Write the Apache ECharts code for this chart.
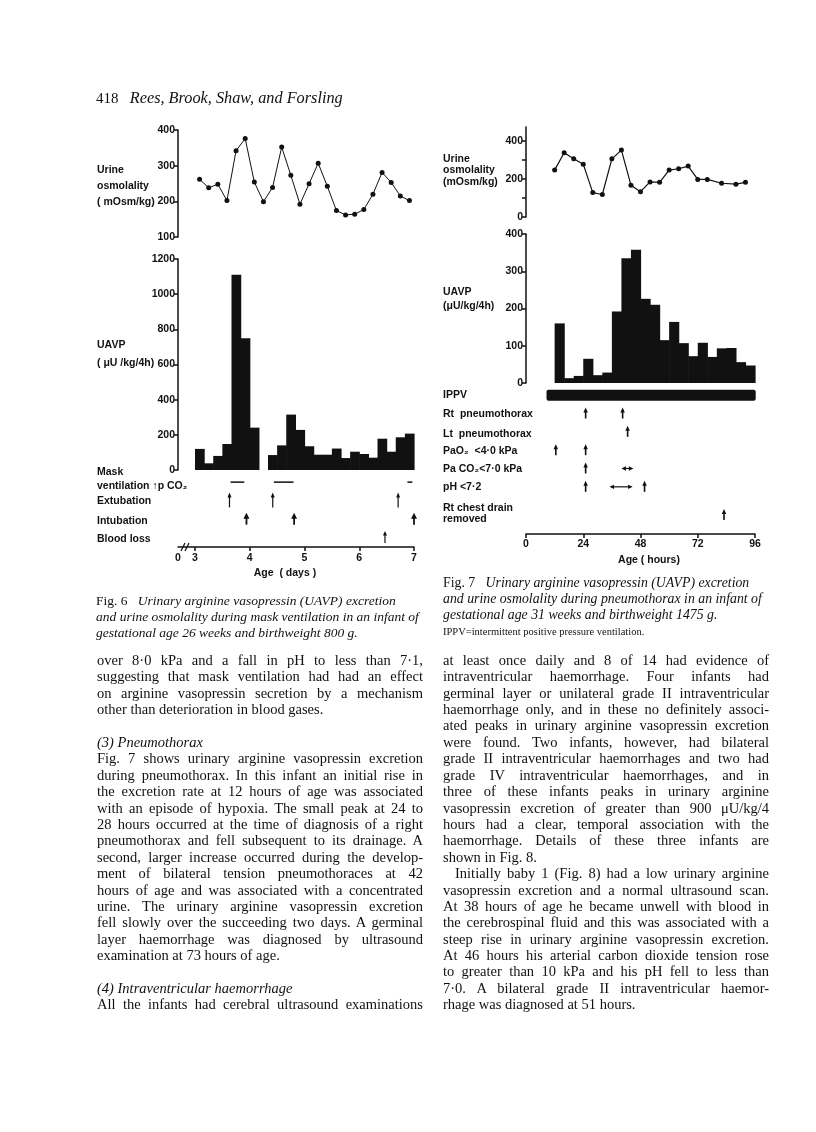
<!DOCTYPE html>
<html>
<head>
<meta charset="utf-8">
<script src="https://cdn.jsdelivr.net/npm/echarts@6/dist/echarts.min.js"></script>
<style>
  html,body{margin:0;padding:0;background:#fff;}
  #page{position:relative;width:816px;height:1132px;overflow:hidden;background:#fff;}
  #chart{position:absolute;left:0;top:0;width:816px;height:1132px;}
  .ln{position:absolute;font-family:"Liberation Serif","Times New Roman",serif;font-size:14.5px;line-height:16px;color:#111;white-space:nowrap;}
  .L{left:97px;} .R{left:443px;}
  .cap{position:absolute;font-family:"Liberation Serif",serif;font-size:13.5px;line-height:16px;color:#111;white-space:nowrap;}
  .small{font-size:10.5px;}
</style>
</head>
<body>
<div id="page">
<div id="chart"></div>

<div class="ln" style="left:96px;top:90px;font-size:15px;">418&nbsp;&nbsp;&nbsp;<i style="font-size:16.3px;">Rees, Brook, Shaw, and Forsling</i></div>

<div class="cap" style="left:96px;top:593px;">Fig. 6&nbsp;&nbsp; <i>Urinary arginine vasopressin (UAVP) excretion</i></div>
<div class="cap" style="left:96px;top:609px;"><i>and urine osmolality during mask ventilation in an infant of</i></div>
<div class="cap" style="left:96px;top:625px;"><i>gestational age 26 weeks and birthweight 800 g.</i></div>

<div class="cap" style="left:443px;top:575px;font-size:13.8px;">Fig. 7&nbsp;&nbsp; <i>Urinary arginine vasopressin (UAVP) excretion</i></div>
<div class="cap" style="left:443px;top:591px;font-size:13.8px;"><i>and urine osmolality during pneumothorax in an infant of</i></div>
<div class="cap" style="left:443px;top:607px;font-size:13.8px;"><i>gestational age 31 weeks and birthweight 1475 g.</i></div>
<div class="cap small" style="left:443px;top:624px;">IPPV=intermittent positive pressure ventilation.</div>

<div class="ln L j" style="top:652px;">over 8·0 kPa and a fall in pH to less than 7·1,</div>
<div class="ln L j" style="top:668px;">suggesting that mask ventilation had had an effect</div>
<div class="ln L j" style="top:685px;">on arginine vasopressin secretion by a mechanism</div>
<div class="ln L" style="top:701px;">other than deterioration in blood gases.</div>
<div class="ln L" style="top:734px;"><i>(3) Pneumothorax</i></div>
<div class="ln L j" style="top:750px;">Fig. 7 shows urinary arginine vasopressin excretion</div>
<div class="ln L j" style="top:767px;">during pneumothorax. In this infant an initial rise in</div>
<div class="ln L j" style="top:783px;">the excretion rate at 12 hours of age was associated</div>
<div class="ln L j" style="top:800px;">with an episode of hypoxia. The small peak at 24 to</div>
<div class="ln L j" style="top:816px;">28 hours occurred at the time of diagnosis of a right</div>
<div class="ln L j" style="top:832px;">pneumothorax and fell subsequent to its drainage. A</div>
<div class="ln L j" style="top:849px;">second, larger increase occurred during the develop-</div>
<div class="ln L j" style="top:865px;">ment of bilateral tension pneumothoraces at 42</div>
<div class="ln L j" style="top:882px;">hours of age and was associated with a concentrated</div>
<div class="ln L j" style="top:898px;">urine. The urinary arginine vasopressin excretion</div>
<div class="ln L j" style="top:914px;">fell slowly over the succeeding two days. A germinal</div>
<div class="ln L j" style="top:931px;">layer haemorrhage was diagnosed by ultrasound</div>
<div class="ln L" style="top:947px;">examination at 73 hours of age.</div>
<div class="ln L" style="top:980px;"><i>(4) Intraventricular haemorrhage</i></div>
<div class="ln L j" style="top:996px;">All the infants had cerebral ultrasound examinations</div>

<div class="ln R j" style="top:652px;">at least once daily and 8 of 14 had evidence of</div>
<div class="ln R j" style="top:668px;">intraventricular haemorrhage. Four infants had</div>
<div class="ln R j" style="top:685px;">germinal layer or unilateral grade II intraventricular</div>
<div class="ln R j" style="top:701px;">haemorrhage only, and in these no definitely associ-</div>
<div class="ln R j" style="top:717px;">ated peaks in urinary arginine vasopressin excretion</div>
<div class="ln R j" style="top:734px;">were found. Two infants, however, had bilateral</div>
<div class="ln R j" style="top:750px;">grade II intraventricular haemorrhages and two had</div>
<div class="ln R j" style="top:767px;">grade IV intraventricular haemorrhages, and in</div>
<div class="ln R j" style="top:783px;">three of these infants peaks in urinary arginine</div>
<div class="ln R j" style="top:800px;">vasopressin excretion of greater than 900 μU/kg/4</div>
<div class="ln R j" style="top:816px;">hours had a clear, temporal association with the</div>
<div class="ln R j" style="top:832px;">haemorrhage. Details of these three infants are</div>
<div class="ln R" style="top:849px;">shown in Fig. 8.</div>
<div class="ln R j" style="top:865px;" data-indent="12">Initially baby 1 (Fig. 8) had a low urinary arginine</div>
<div class="ln R j" style="top:882px;">vasopressin excretion and a normal ultrasound scan.</div>
<div class="ln R j" style="top:898px;">At 38 hours of age he became unwell with blood in</div>
<div class="ln R j" style="top:914px;">the cerebrospinal fluid and this was associated with a</div>
<div class="ln R j" style="top:931px;">steep rise in urinary arginine vasopressin excretion.</div>
<div class="ln R j" style="top:947px;">At 46 hours his arterial carbon dioxide tension rose</div>
<div class="ln R j" style="top:963px;">to greater than 10 kPa and his pH fell to less than</div>
<div class="ln R j" style="top:980px;">7·0. A bilateral grade II intraventricular haemor-</div>
<div class="ln R" style="top:996px;">rhage was diagnosed at 51 hours.</div>
</div>

<script>
// ---------------- DATA ----------------
// Fig. 6 — ages in hours (4-hourly collections, day 3 to day 7)
const fig6BinStartHours = [72,76,80,84,88,92,96,100,104,108,112,116,120,124,128,132,136,140,144,148,152,156,160,164];
const fig6BinHours = 4;
const fig6Uavp = [120,38,80,148,1110,750,241,0,85,140,315,228,135,87,87,122,68,104,91,70,178,104,186,207];
const fig6OsmHours = [74,78,82,86,90,94,98,102,106,110,114,118,122,126,130,134,138,142,146,150,154,158,162,166];
const fig6Osm = [262,238,248,202,342,376,254,199,239,352,273,192,249,307,242,174,162,164,177,220,281,253,215,202];
const fig6Rows = ['Mask ventilation','Extubation','Intubation','Blood loss'];
const fig6MaskVentDays = [[3.65,3.90],[4.44,4.80],[6.88,6.97]];
const fig6ExtubationDays = [3.63,4.42,6.71];
const fig6IntubationDays = [3.94,4.81,7.0];
const fig6BloodLossDays = [6.47];
const fig6TickDays = [3,4,5,6,7];

// Fig. 7 — ages in hours
const fig7BinStartHours = [12,16,20,24,28,32,36,40,44,48,52,56,60,64,68,72,76,80,84,88,92];
const fig7BinHours = 4;
const fig7Uavp = [160,13,19,65,21,28,192,335,358,226,210,115,164,107,72,108,70,93,94,56,47];
const fig7OsmHours = [12,16,20,24,28,32,36,40,44,48,52,56,60,64,68,72,76,82,88,92];
const fig7Osm = [246,337,305,277,128,118,305,351,167,133,184,182,246,253,267,197,197,177,172,182];
const fig7Rows = ['IPPV','Rt pneumothorax','Lt pneumothorax','PaO2','PaCO2','pH'];
const fig7IppvHours = [[8.6,96.3]];
const fig7RtPneumoHours = [25,40.5];
const fig7LtPneumoHours = [42.6];
const fig7PaO2Hours = [12.5,25];
const fig7PaCO2Hours = [25];
const fig7PaCO2RangeHours = [[40,45]];
const fig7PhHours = [25,49.7];
const fig7PhRangeHours = [[35,44.7]];
const fig7DrainHours = [83];
const fig7TickHours = [0,24,48,72,96];

// ---------------- CHART ----------------
const F = '"Liberation Sans", Arial, sans-serif';
const FS = 10.5;
const BLK = '#111';
const X6MIN = 3 - 17/54.75;

const chart = echarts.init(document.getElementById('chart'), null, {renderer:'canvas'});

function plain(v){ return String(v); }
function yAx(grid, extra){
  return Object.assign({
    type:'value', gridIndex:grid,
    axisLine:{show:true, lineStyle:{color:BLK, width:1.5}},
    axisTick:{show:true, length:4, lineStyle:{color:BLK, width:1.5}},
    axisLabel:{color:BLK, fontFamily:F, fontSize:FS, fontWeight:'bold', margin:3, formatter:plain},
    splitLine:{show:false}
  }, extra);
}
function hidX(grid, min, max){
  return {type:'value', gridIndex:grid, min:min, max:max, show:false, splitLine:{show:false}};
}
function catY(grid, rows){
  return {type:'category', gridIndex:grid, data:rows, inverse:true, show:false};
}

function barsRender(params, api){
  const a = api.coord([api.value(0), api.value(2)]);
  const b = api.coord([api.value(1), 0]);
  return {type:'rect', shape:{x:a[0], y:a[1], width:b[0]-a[0]+0.6, height:b[1]-a[1]}, style:{fill:BLK}};
}
function arrowRender(up, down, hw, hh, lw){
  return function(params, api){
    const p = api.coord([api.value(0), api.value(1)]);
    const x = p[0], y = p[1];
    return {type:'group', children:[
      {type:'line', shape:{x1:x, y1:y+down, x2:x, y2:y-up+hh*0.6}, style:{stroke:BLK, lineWidth:lw}},
      {type:'polygon', shape:{points:[[x, y-up],[x-hw/2, y-up+hh],[x+hw/2, y-up+hh]]}, style:{fill:BLK}}
    ]};
  };
}
function dblArrowRender(params, api){
  const a = api.coord([api.value(0), api.value(2)]);
  const b = api.coord([api.value(1), api.value(2)]);
  const y = a[1];
  return {type:'group', children:[
    {type:'line', shape:{x1:a[0]+2, y1:y, x2:b[0]-2, y2:y}, style:{stroke:BLK, lineWidth:1.2}},
    {type:'polygon', shape:{points:[[a[0],y],[a[0]+4.5,y-2.2],[a[0]+4.5,y+2.2]]}, style:{fill:BLK}},
    {type:'polygon', shape:{points:[[b[0],y],[b[0]-4.5,y-2.2],[b[0]-4.5,y+2.2]]}, style:{fill:BLK}}
  ]};
}
function segRender(params, api){
  const a = api.coord([api.value(0), api.value(2)]);
  const b = api.coord([api.value(1), api.value(2)]);
  return {type:'line', shape:{x1:a[0], y1:a[1], x2:b[0], y2:b[1]}, style:{stroke:BLK, lineWidth:1.5}};
}
function bandRender(params, api){
  const a = api.coord([api.value(0), api.value(2)]);
  const b = api.coord([api.value(1), api.value(2)]);
  return {type:'rect', shape:{x:a[0], y:a[1]-5.5, width:b[0]-a[0], height:11, r:2}, style:{fill:BLK}};
}

const fig6Bars = fig6BinStartHours.map((h,i)=>[h/24, (h+fig6BinHours)/24, fig6Uavp[i]]);
const fig6OsmData = fig6OsmHours.map((h,i)=>[h/24, fig6Osm[i]]);
const fig7Bars = fig7BinStartHours.map((h,i)=>[h, h+fig7BinHours, fig7Uavp[i]]);
const fig7OsmData = fig7OsmHours.map((h,i)=>[h, fig7Osm[i]]);

function txt(x, y, t, extra){
  return {type:'text', x:x, y:y, style:Object.assign({text:t, fill:BLK, font:'bold '+FS+'px '+F, textVerticalAlign:'middle', verticalAlign:'middle'}, extra||{})};
}

const option = {
  animation:false,
  backgroundColor:'transparent',
  grid:[
    {left:178, top:130, width:236, height:107},
    {left:178, top:259, width:236, height:211},
    {left:178, top:473, width:236, height:73},
    {left:526, top:127, width:229, height:90},
    {left:526, top:234, width:229, height:149},
    {left:526, top:386, width:229, height:110},
    {left:526, top:505, width:229, height:20}
  ],
  xAxis:[
    hidX(0, X6MIN, 7),
    hidX(1, X6MIN, 7),
    {type:'value', gridIndex:2, min:X6MIN, max:7, offset:1,
      axisLine:{show:true, lineStyle:{color:BLK, width:1.5}},
      axisTick:{show:true, length:4, customValues:fig6TickDays, lineStyle:{color:BLK, width:1.5}},
      axisLabel:{color:BLK, fontFamily:F, fontSize:FS, fontWeight:'bold', margin:6,
        customValues:[X6MIN].concat(fig6TickDays),
        formatter:function(v){ return v < 3 ? '0' : String(Math.round(v)); }},
      splitLine:{show:false}},
    hidX(3, 0, 96),
    hidX(4, 0, 96),
    hidX(5, 0, 96),
    {type:'value', gridIndex:6, min:0, max:96, interval:24, offset:9,
      axisLine:{show:true, lineStyle:{color:BLK, width:1.5}},
      axisTick:{show:true, length:4, customValues:fig7TickHours, lineStyle:{color:BLK, width:1.5}},
      axisLabel:{color:BLK, fontFamily:F, fontSize:FS, fontWeight:'bold', margin:5, customValues:fig7TickHours, formatter:plain},
      splitLine:{show:false}}
  ],
  yAxis:[
    yAx(0, {min:100, max:400, interval:100}),
    yAx(1, {min:0, max:1200, interval:200}),
    catY(2, fig6Rows),
    yAx(3, {min:0, max:472, axisTick:{show:true, length:4, customValues:[0,100,200,300,400], lineStyle:{color:BLK, width:1.5}},
            axisLabel:{color:BLK, fontFamily:F, fontSize:FS, fontWeight:'bold', margin:3, customValues:[0,200,400], formatter:plain}}),
    yAx(4, {min:0, max:400, interval:100}),
    catY(5, fig7Rows),
    catY(6, ['Rt chest drain removed'])
  ],
  series:[
    {type:'line', xAxisIndex:0, yAxisIndex:0, data:fig6OsmData, symbol:'circle', symbolSize:5,
      lineStyle:{color:BLK, width:1}, itemStyle:{color:BLK}},
    {type:'custom', xAxisIndex:1, yAxisIndex:1, data:fig6Bars, encode:{x:[0,1], y:2}, renderItem:barsRender},
    {type:'custom', xAxisIndex:2, yAxisIndex:2, data:fig6MaskVentDays.map(d=>[d[0],d[1],fig6Rows[0]]), encode:{x:[0,1], y:2}, renderItem:segRender},
    {type:'custom', xAxisIndex:2, yAxisIndex:2, data:fig6ExtubationDays.map(d=>[d,fig6Rows[1]]), encode:{x:0, y:1}, renderItem:arrowRender(8,7,4,5,1.2)},
    {type:'custom', xAxisIndex:2, yAxisIndex:2, data:fig6IntubationDays.map(d=>[d,fig6Rows[2]]), encode:{x:0, y:1}, renderItem:arrowRender(6,6,6,6,1.8)},
    {type:'custom', xAxisIndex:2, yAxisIndex:2, data:fig6BloodLossDays.map(d=>[d,fig6Rows[3]]), encode:{x:0, y:1}, renderItem:arrowRender(6,6,4,4.5,1.2)},

    {type:'line', xAxisIndex:3, yAxisIndex:3, data:fig7OsmData, symbol:'circle', symbolSize:5,
      lineStyle:{color:BLK, width:1.2}, itemStyle:{color:BLK}},
    {type:'custom', xAxisIndex:4, yAxisIndex:4, data:fig7Bars, encode:{x:[0,1], y:2}, renderItem:barsRender},
    {type:'custom', xAxisIndex:5, yAxisIndex:5, data:fig7IppvHours.map(d=>[d[0],d[1],fig7Rows[0]]), encode:{x:[0,1], y:2}, renderItem:bandRender},
    {type:'custom', xAxisIndex:5, yAxisIndex:5, encode:{x:0, y:1}, renderItem:arrowRender(6,5,4.5,5,1.6),
      data:[].concat(
        fig7RtPneumoHours.map(d=>[d,fig7Rows[1]]),
        fig7LtPneumoHours.map(d=>[d,fig7Rows[2]]),
        fig7PaO2Hours.map(d=>[d,fig7Rows[3]]),
        fig7PaCO2Hours.map(d=>[d,fig7Rows[4]]),
        fig7PhHours.map(d=>[d,fig7Rows[5]]))},
    {type:'custom', xAxisIndex:5, yAxisIndex:5, encode:{x:[0,1], y:2}, renderItem:dblArrowRender,
      data:[].concat(
        fig7PaCO2RangeHours.map(d=>[d[0],d[1],fig7Rows[4]]),
        fig7PhRangeHours.map(d=>[d[0],d[1],fig7Rows[5]]))},
    {type:'custom', xAxisIndex:6, yAxisIndex:6, data:fig7DrainHours.map(d=>[d,'Rt chest drain removed']), encode:{x:0, y:1}, renderItem:arrowRender(6,5,4.5,5,1.6)}
  ],
  graphic:[
    txt(97,170,'Urine'), txt(97,186,'osmolality'), txt(97,202,'( mOsm/kg)'),
    txt(97,345,'UAVP'), txt(97,363,'( μU /kg/4h)'),
    txt(97,472,'Mask'), txt(97,486,'ventilation ↑p CO₂'),
    txt(97,501,'Extubation'), txt(97,521,'Intubation'), txt(97,539,'Blood loss'),
    txt(285,573,'Age  ( days )', {textAlign:'center', align:'center'}),
    // axis break marks on Fig. 6 age axis
    {type:'rect', shape:{x:182, y:545, width:6, height:4}, style:{fill:'#fff'}},
    {type:'line', shape:{x1:181, y1:551, x2:185, y2:543}, style:{stroke:BLK, lineWidth:1.3}},
    {type:'line', shape:{x1:185, y1:551, x2:189, y2:543}, style:{stroke:BLK, lineWidth:1.3}},

    txt(443,159,'Urine'), txt(443,170,'osmolality'), txt(443,182,'(mOsm/kg)'),
    txt(443,292,'UAVP'), txt(443,306,'(μU/kg/4h)'),
    txt(443,395,'IPPV'), txt(443,414,'Rt  pneumothorax'), txt(443,434,'Lt  pneumothorax'),
    txt(443,451,'PaO₂  <4·0 kPa'), txt(443,469,'Pa CO₂<7·0 kPa'), txt(443,487,'pH <7·2'),
    txt(443,508,'Rt chest drain'), txt(443,519,'removed'),
    txt(649,560,'Age ( hours)', {textAlign:'center', align:'center'})
  ]
};
chart.setOption(option);

// justify body lines to the column width
document.querySelectorAll('.j').forEach(function(el){
  const W = 326;
  const ind = parseFloat(el.dataset.indent || 0);
  const s = document.createElement('span');
  s.innerHTML = el.innerHTML;
  el.innerHTML = '';
  el.appendChild(s);
  if (ind) s.style.marginLeft = ind + 'px';
  const w = s.getBoundingClientRect().width + ind;
  const n = (s.textContent.match(/ /g) || []).length;
  if (n) s.style.wordSpacing = ((W - w) / n) + 'px';
});
</script>
</body>
</html>
